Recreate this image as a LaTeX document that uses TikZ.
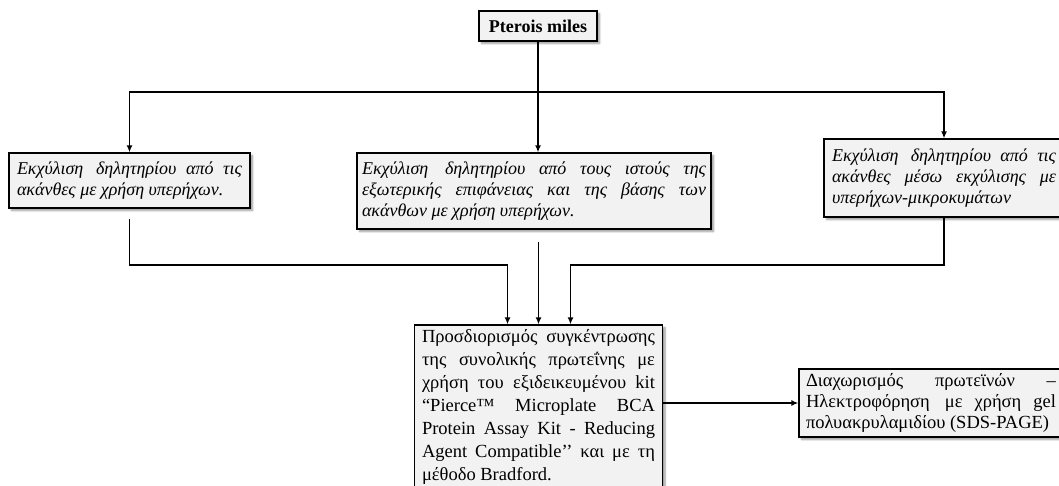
\documentclass[tikz,border=0pt]{standalone}
\usepackage{fontspec}
\setmainfont{Liberation Serif}
\usetikzlibrary{arrows.meta,shadows.blur}

\hyphenpenalty=10000
\exhyphenpenalty=10000
\tolerance=9999

\tikzset{
  box/.style={draw=black, line width=1.3pt, fill=black!5,
    blur shadow={shadow xshift=2.5pt, shadow yshift=-2.5pt, shadow blur steps=6},
    inner xsep=8pt, inner ysep=3pt, align=justify,
    font=\fontsize{18.5}{21}\selectfont},
  greekit/.style={font=\fontsize{18}{21}\selectfont\itshape},
  line/.style={line width=1.4pt},
  arr/.style={line width=1.4pt, -{Latex[length=7pt,width=6pt]}}
}

\begin{document}
\begin{tikzpicture}[x=1pt,y=-1pt]

\useasboundingbox (0,0) rectangle (1059,486);

% Source
\node[box, align=center, minimum width=118pt, minimum height=30pt,
  font=\fontsize{18}{21}\selectfont\bfseries] (pm) at (538,26) {Pterois miles};

% Extraction methods
\node[box, greekit, text width=225pt, minimum height=55pt] (e1) at (129.5,180.5)
  {Εκχύλιση\, δηλητηρίου από τις ακάνθες με χρήση υπερήχων.};
\node[box, greekit, inner xsep=5pt, text width=344pt, minimum height=76pt] (e2) at (534,191)
  {Εκχύλιση\, δηλητηρίου από τους ιστούς της εξωτερικής επιφάνειας και της βάσης των ακάνθων με χρήση υπερήχων.};
\node[box, greekit, text width=224pt, minimum height=78pt] (e3) at (944,178)
  {Εκχύλιση\, δηλητηρίου από τις ακάνθες μέσω εκχύλισης με υπερήχων-μικροκυμάτων};

% Protein assay
\node[box, inner xsep=7.5pt, text width=233pt, minimum height=163pt,
  font=\fontsize{18.5}{23}\selectfont] (prot) at (538.5,406.5)
  {Προσδιορισμός συγκέντρωσης\linebreak της συνολικής πρωτεΐνης με\linebreak
   χρήση του εξιδεικευμένου kit\linebreak “Pierce™ Microplate BCA\linebreak
   Protein Assay Kit - Reducing\linebreak Agent Compatible’’ και με τη\linebreak
   μέθοδο Bradford.};

% Electrophoresis
\node[box, inner xsep=7pt, text width=250pt, minimum height=68pt] (sds) at (931,403)
  {Διαχωρισμός πρωτεϊνών –\linebreak Ηλεκτροφόρηση\, με χρήση gel\linebreak πολυακρυλαμιδίου (SDS-PAGE)};

% Split and merge points
\coordinate (split) at (538,92);
\coordinate (merge) at (538,265);
\coordinate (e2out) at ([yshift=-12pt]e2.south);

% Connectors
\draw[line] (pm.south) -- (split);
\draw[arr] (split) -| (e1.north);
\draw[arr] (split) -- (split |- e2.north);
\draw[arr] (split) -| (e3.north);

\draw[arr] ([yshift=-10pt]e1.south) -- (e1.south |- merge) -| ([xshift=-31pt]prot.north);
\draw[arr] (e2out -| prot.north) -- (prot.north);
\draw[arr] (e3.south) -- (e3.south |- merge) -| ([xshift=32pt]prot.north);

\draw[arr] (sds.west -| prot.east) -- (sds.west);

\end{tikzpicture}
\end{document}
